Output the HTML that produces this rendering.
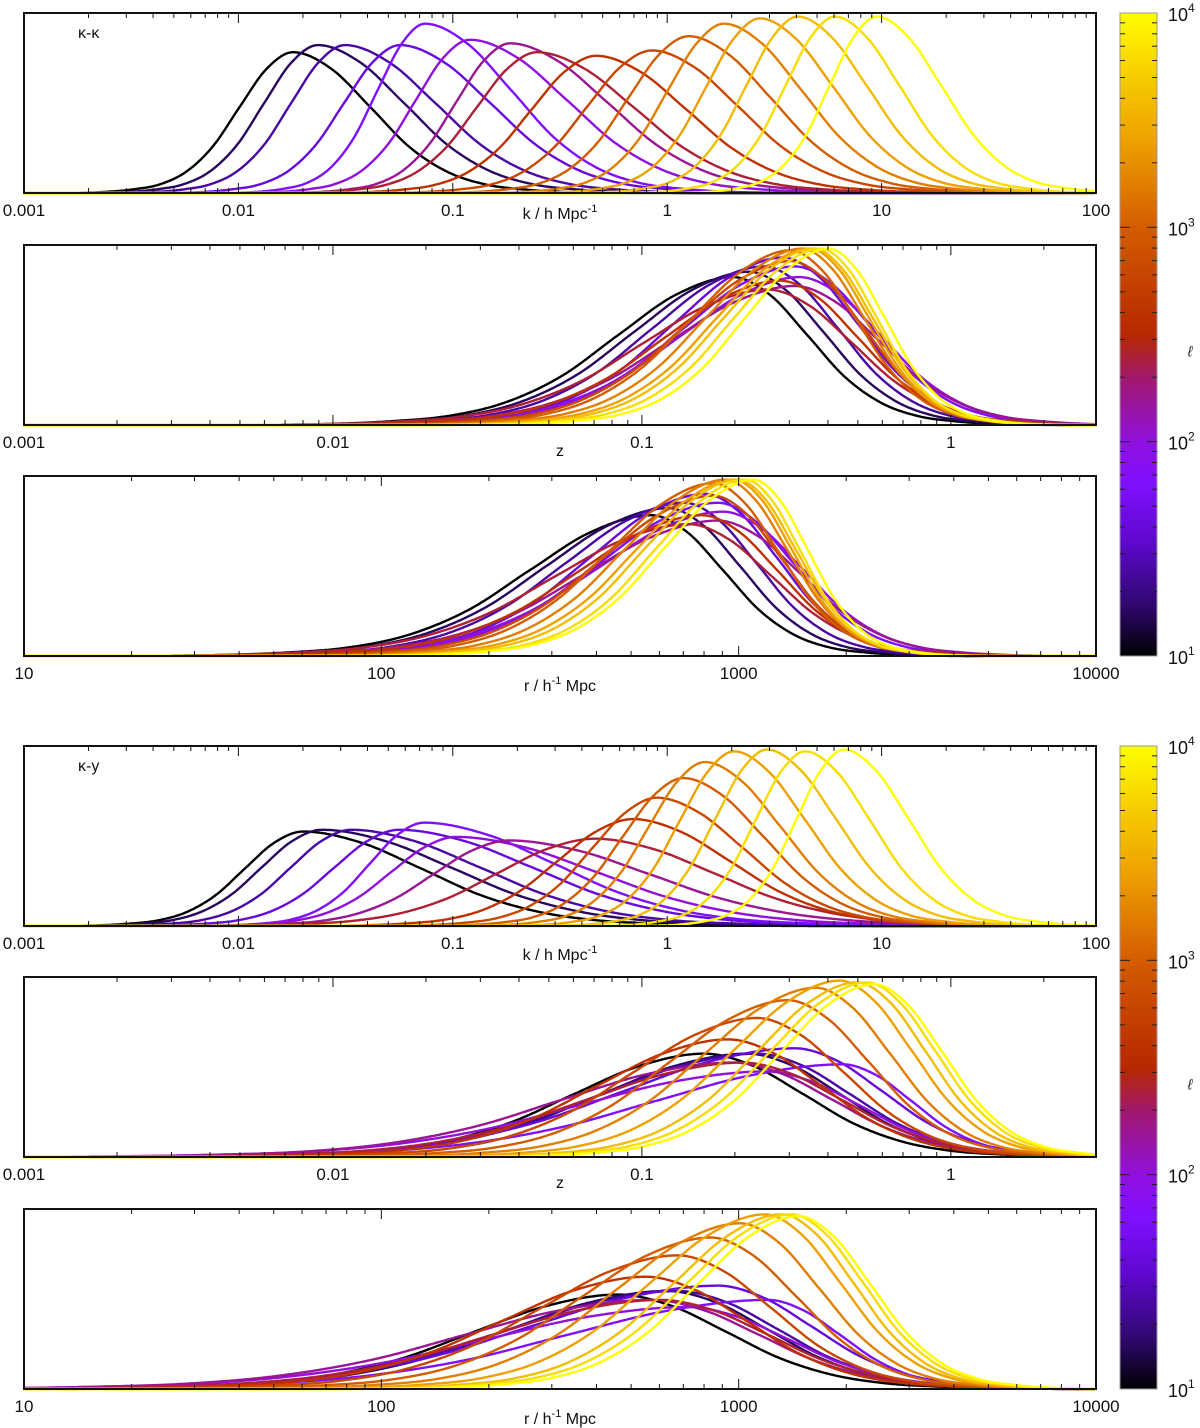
<!DOCTYPE html>
<html><head><meta charset="utf-8"><title>Lensing kernels</title>
<style>
body{margin:0;background:#fff;}
svg{display:block;font-family:"Liberation Sans",sans-serif;}
</style></head>
<body>
<svg id="chart" width="1200" height="1428" viewBox="0 0 1200 1428" xmlns="http://www.w3.org/2000/svg">
<defs>
<linearGradient id="cmap" x1="0" y1="1" x2="0" y2="0">
<stop offset="0" stop-color="#000000"/><stop offset="0.08" stop-color="#300870"/>
<stop offset="0.18" stop-color="#6008d0"/><stop offset="0.27" stop-color="#8010ff"/>
<stop offset="0.33" stop-color="#9010e0"/><stop offset="0.43" stop-color="#a01870"/>
<stop offset="0.5" stop-color="#b82800"/><stop offset="0.667" stop-color="#d45c00"/>
<stop offset="0.8" stop-color="#eea000"/><stop offset="0.9" stop-color="#f6cc00"/>
<stop offset="1" stop-color="#ffff00"/>
</linearGradient>
</defs>
<g id="layer"></g>
</svg>
<script>
// multipoles of the 16 curves (colour scale)
const ells = [10,16,25,40,63,100,158,251,398,631,1000,1585,2512,3981,6310,10000];
// shared peak profile sampled every 0.5 widths from the peak -> relative height
const profileV = [1,0.88,0.61,0.33,0.15,0.06,0.025,0.008,0.002,0,0];
const profileStep = 0.5;

// panel 1: kappa-kappa vs k
const kkKPeak = [0.018,0.0235,0.0314,0.0567,0.0742,0.120,0.185,0.247,0.466,0.849,1.26,1.84,2.71,4.07,6.06,9.5];
const kkKHeight = [0.79,0.83,0.83,0.83,0.95,0.86,0.84,0.79,0.77,0.80,0.88,0.95,0.98,0.99,0.99,0.99];
const kkKWidthL = [0.25,0.25,0.25,0.26,0.22,0.25,0.25,0.28,0.3,0.3,0.28,0.26,0.25,0.24,0.23,0.22];
const kkKWidthR = [0.36,0.4,0.42,0.42,0.4,0.45,0.45,0.45,0.42,0.4,0.38,0.36,0.34,0.32,0.3,0.3];
// panel 2: kappa-kappa vs z
const kkZPeak = [0.197,0.222,0.248,0.286,0.313,0.324,0.313,0.256,0.280,0.303,0.303,0.330,0.350,0.360,0.380,0.403];
const kkZHeight = [0.83,0.86,0.89,0.94,0.89,0.83,0.78,0.76,0.81,0.92,0.98,0.99,0.99,0.99,0.99,0.99];
const kkZWidthL = [0.37,0.37,0.36,0.35,0.36,0.38,0.4,0.4,0.37,0.34,0.32,0.31,0.3,0.29,0.28,0.27];
const kkZWidthR = [0.24,0.24,0.24,0.24,0.25,0.26,0.27,0.27,0.25,0.23,0.21,0.2,0.19,0.19,0.18,0.18];
// panel 3: kappa-kappa vs r
const kkRPeak = [570,635,705,805,875,905,875,725,790,850,850,920,970,995,1045,1100];
const kkRHeight = [0.79,0.83,0.86,0.91,0.86,0.81,0.76,0.74,0.79,0.90,0.97,0.99,0.99,0.99,0.99,0.99];
const kkRWidthL = [0.34,0.34,0.33,0.32,0.33,0.35,0.37,0.37,0.34,0.31,0.29,0.28,0.27,0.26,0.25,0.25];
const kkRWidthR = [0.2,0.2,0.2,0.2,0.21,0.22,0.23,0.23,0.21,0.19,0.18,0.17,0.16,0.16,0.15,0.15];
// panel 4: kappa-y vs k
const kyKPeak = [0.0200,0.0245,0.0335,0.0561,0.0734,0.1035,0.183,0.460,0.692,0.896,1.19,1.50,2.05,2.92,4.40,6.68];
const kyKHeight = [0.53,0.54,0.54,0.54,0.58,0.5,0.48,0.49,0.6,0.72,0.83,0.92,0.98,0.99,0.98,0.99];
const kyKWidthL = [0.27,0.28,0.28,0.3,0.25,0.3,0.35,0.45,0.35,0.3,0.28,0.26,0.25,0.24,0.23,0.22];
const kyKWidthR = [0.55,0.6,0.6,0.62,0.6,0.65,0.65,0.55,0.45,0.4,0.37,0.35,0.33,0.32,0.3,0.3];
// panel 5: kappa-y vs z
const kyZPeak = [0.159,0.219,0.236,0.313,0.447,0.252,0.197,0.211,0.190,0.236,0.297,0.366,0.437,0.497,0.535,0.564];
const kyZHeight = [0.58,0.58,0.58,0.61,0.52,0.48,0.53,0.53,0.66,0.78,0.88,0.95,0.99,0.98,0.98,0.97];
const kyZWidthL = [0.42,0.47,0.5,0.55,0.6,0.6,0.55,0.5,0.42,0.4,0.38,0.36,0.34,0.32,0.31,0.3];
const kyZWidthR = [0.32,0.3,0.3,0.28,0.22,0.3,0.32,0.32,0.3,0.28,0.26,0.24,0.23,0.22,0.22,0.22];
// panel 6: kappa-y vs r
const kyRPeak = [460,630,675,875,1210,720,570,605,550,675,835,1010,1185,1320,1405,1470];
const kyRHeight = [0.53,0.55,0.55,0.58,0.5,0.46,0.5,0.5,0.63,0.75,0.85,0.93,0.98,0.98,0.98,0.97];
const kyRWidthL = [0.4,0.44,0.47,0.52,0.56,0.56,0.52,0.47,0.4,0.38,0.36,0.34,0.32,0.3,0.29,0.28];
const kyRWidthR = [0.3,0.28,0.28,0.26,0.2,0.28,0.3,0.3,0.28,0.26,0.24,0.22,0.21,0.2,0.2,0.2];

// tick labels
const kTickLabels = ["0.001","0.01","0.1","1","10","100"];
const zTickLabels = ["0.001","0.01","0.1","1"];
const rTickLabels = ["10","100","1000","10000"];
const cbTickLabels = ["1","2","3","4"];

const NS = "http://www.w3.org/2000/svg";
const layer = document.getElementById("layer");
function mk(tag, attrs, parent){
  const e = document.createElementNS(NS, tag);
  for (const k in attrs) e.setAttribute(k, attrs[k]);
  (parent||layer).appendChild(e);
  return e;
}
const cmapStops = [[0,[0,0,0]],[0.08,[48,8,112]],[0.18,[96,8,208]],[0.27,[128,16,255]],[0.33,[144,16,224]],[0.43,[160,24,112]],[0.5,[184,40,0]],[0.667,[212,92,0]],[0.8,[238,160,0]],[0.9,[246,204,0]],[1,[255,255,0]]];
function cmap(f){
  for (let i=1;i<cmapStops.length;i++){
    if (f<=cmapStops[i][0]){
      const a=cmapStops[i-1], b=cmapStops[i], t=(f-a[0])/(b[0]-a[0]);
      const c=a[1].map((v,j)=>Math.round(v+(b[1][j]-v)*t));
      return "rgb("+c.join(",")+")";
    }
  }
  return "rgb(255,255,0)";
}
function pv(i){ i=Math.abs(i); return i<profileV.length?profileV[i]:0; }
function profile(u){
  u=Math.abs(u)/profileStep;
  const i=Math.floor(u), t=u-i;
  if (i>=profileV.length-1) return 0;
  const p0=pv(i-1),p1=pv(i),p2=pv(i+1),p3=pv(i+2);
  const v=0.5*((2*p1)+(-p0+p2)*t+(2*p0-5*p1+4*p2-p3)*t*t+(-p0+3*p1-3*p2+p3)*t*t*t);
  return Math.max(0,v);
}
const X0=24, X1=1096;
function panel(p){
  const g = mk("g",{});
  
  
  const top=p.top, bot=p.top+180;
  const lmin=Math.log10(p.min), lmax=Math.log10(p.max);
  const xs = v => X0+(Math.log10(v)-lmin)/(lmax-lmin)*(X1-X0);
  const ys = v => bot - v*180*0.99;
  const cg = mk("g",{},g);
  
  
  for (let i=0;i<ells.length;i++){
    const lp=Math.log10(p.peak[i]);
    let d="";
    for (let px=X0; px<=X1; px+=1.5){
      const lv = lmin+(px-X0)/(X1-X0)*(lmax-lmin);
      const dd = lv-lp;
      const u = dd<0 ? dd/p.wl[i] : dd/p.wr[i];
      const y = ys(p.height[i]*profile(u));
      d += (d?"L":"M")+px.toFixed(1)+","+y.toFixed(1);
    }
    const f = Math.log10(ells[i]/10)/3;
    const path = mk("path",{d:d,fill:"none",stroke:cmap(f),"stroke-width":2.4,"stroke-linejoin":"round"},cg);
    
    
  }
  const fr = mk("rect",{x:X0,y:top,width:X1-X0,height:180,fill:"none",stroke:"#111","stroke-width":2},g);
  
  
  const tg = mk("g",{stroke:"#111","stroke-width":1},g);
  
  
  for (let e=Math.floor(lmin); e<=Math.ceil(lmax); e++){
    for (let m=1;m<=9;m++){
      const v=m*Math.pow(10,e);
      if (Math.log10(v)<lmin-1e-9||Math.log10(v)>lmax+1e-9) continue;
      const x=xs(v), L=(m===1)?10:5;
      mk("line",{x1:x,y1:bot,x2:x,y2:bot-L},tg);
      mk("line",{x1:x,y1:top,x2:x,y2:top+L},tg);
    }
  }
  p.labels.forEach((s,i)=>{
    const v=Math.pow(10,Math.round(lmin)+i);
    const t=mk("text",{x:xs(v),y:bot+23,"text-anchor":"middle","font-size":17,fill:"#111"},g);
    t.textContent=s;
    
    
  });
  const tt=mk("text",{x:560,y:bot+p.titleDy,"text-anchor":"middle","font-size":16,fill:"#111"},g);
  tt.innerHTML=p.title;
  
  
  if (p.tag){
    const lt=mk("text",{x:78,y:top+25,"font-size":16,fill:"#111"},g);
    lt.textContent=p.tag;
    
    
  }
}
const kTitle='k / h Mpc<tspan dy="-7" font-size="11">-1</tspan>';
const rTitle='r / h<tspan dy="-7" font-size="11">-1</tspan><tspan dy="7"> Mpc</tspan>';
panel({name:"kk-k-panel",top:13,min:0.001,max:100,peak:kkKPeak,height:kkKHeight,wl:kkKWidthL,wr:kkKWidthR,labels:kTickLabels,title:kTitle,titleDy:26,tag:"κ-κ"});
panel({name:"kk-z-panel",top:245,min:0.001,max:2.95,peak:kkZPeak,height:kkZHeight,wl:kkZWidthL,wr:kkZWidthR,labels:zTickLabels,title:"z",titleDy:31});
panel({name:"kk-r-panel",top:476,min:10,max:10000,peak:kkRPeak,height:kkRHeight,wl:kkRWidthL,wr:kkRWidthR,labels:rTickLabels,title:rTitle,titleDy:35});
panel({name:"ky-k-panel",top:746,min:0.001,max:100,peak:kyKPeak,height:kyKHeight,wl:kyKWidthL,wr:kyKWidthR,labels:kTickLabels,title:kTitle,titleDy:34,tag:"κ-y"});
panel({name:"ky-z-panel",top:977,min:0.001,max:2.95,peak:kyZPeak,height:kyZHeight,wl:kyZWidthL,wr:kyZWidthR,labels:zTickLabels,title:"z",titleDy:31});
panel({name:"ky-r-panel",top:1209,min:10,max:10000,peak:kyRPeak,height:kyRHeight,wl:kyRWidthL,wr:kyRWidthR,labels:rTickLabels,title:rTitle,titleDy:35});

function colorbar(top,bot,name){
  const g=mk("g",{});
  
  
  const r=mk("rect",{x:1120,y:top,width:37,height:bot-top,fill:"url(#cmap)",stroke:"#999","stroke-width":1},g);
  
  
  const h=bot-top;
  const cy=lv=>bot-(lv-1)/3*h;
  const tg=mk("g",{stroke:"#222","stroke-width":1},g);
  for (let e=1;e<4;e++) for (let m=1;m<=9;m++){
    const lv=e+Math.log10(m); if (lv<=1) continue;
    const L=(m===1)?10:5, y=cy(lv);
    mk("line",{x1:1120,y1:y,x2:1120+L,y2:y},tg);
    mk("line",{x1:1157,y1:y,x2:1157-L,y2:y},tg);
  }
  cbTickLabels.forEach((s,i)=>{
    const y=cy(i+1);
    const t=mk("text",{x:1168,y:y+8,"font-size":18,fill:"#111"},g);
    t.innerHTML='10<tspan dy="-9" font-size="12">'+s+'</tspan>';
    
    
  });
  const lt=mk("text",{x:1190,y:(top+bot)/2+22,"font-size":15,"font-style":"italic",fill:"#333","text-anchor":"middle"},g);
  lt.textContent="ℓ";
  
  
}
colorbar(13,656,"colorbar-kk");
colorbar(746,1389,"colorbar-ky");
</script>
</body></html>
